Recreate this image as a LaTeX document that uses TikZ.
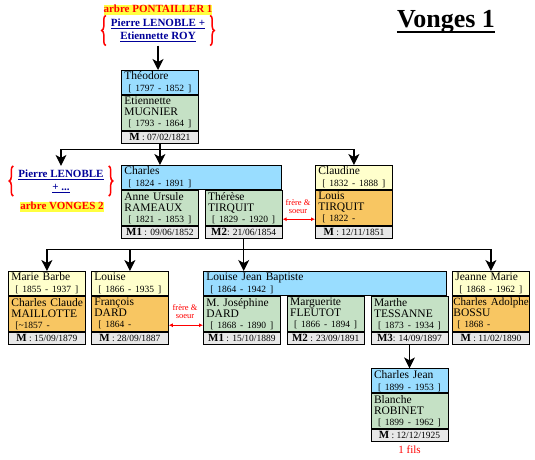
\documentclass[tikz,border=0pt]{standalone}
\usepackage{fontspec}
\setmainfont{Liberation Serif}
\usetikzlibrary{positioning,arrows.meta,decorations.pathreplacing}

\definecolor{bleu}{RGB}{153,221,255}
\definecolor{vert}{RGB}{197,225,197}
\definecolor{gris}{RGB}{232,232,232}
\definecolor{jaune}{RGB}{255,255,204}
\definecolor{orangeb}{RGB}{248,198,98}
\definecolor{jaunevif}{RGB}{255,255,64}
\definecolor{bleulien}{RGB}{0,0,153}

\newcommand\datefont{\fontsize{9.5}{11}\selectfont}
\newcommand\ind[1]{\hspace*{4pt}{\datefont #1}}
\newcommand\mnum[1]{{\fontsize{11}{12}\selectfont\bfseries #1}}

\tikzset{
  sect/.style={draw, line width=0.8pt, anchor=north west, inner xsep=3pt, inner ysep=0pt, text width=71pt, align=left},
  pere/.style={sect, fill=bleu, minimum height=24pt, font=\fontsize{11.5}{12}\selectfont},
  fille/.style={pere, fill=jaune},
  conj/.style={sect, fill=vert, minimum height=35pt, font=\fontsize{11.5}{11}\selectfont},
  conjf/.style={conj, fill=orangeb},
  mar/.style={draw, line width=0.8pt, anchor=north west, fill=gris, minimum width=77pt, minimum height=12pt, inner sep=0pt, font=\datefont},
  fil/.style={line width=1.2pt},
  fleche/.style={fil, -{Stealth[length=11pt,width=11pt,inset=3pt]}},
  lien/.style={text=bleulien, font=\fontsize{11}{13}\selectfont\bfseries, align=center, inner xsep=5pt, inner ysep=3.5pt},
  arbre/.style={fill=jaunevif, text=red, font=\fontsize{11}{12}\selectfont\bfseries, inner sep=0pt, text height=8pt, text depth=2pt},
  accol/.style={red, line width=1.5pt, decorate, decoration={brace, amplitude=4pt}},
  fs/.style={text=red, font=\fontsize{8.5}{8}\selectfont, align=center, inner sep=0pt},
  sib/.style={red, line width=0.8pt, {Latex[length=4pt,width=4pt]}-{Latex[length=4pt,width=4pt]}},
}

\begin{document}
\begin{tikzpicture}[x=1pt, y=-1pt]
    \useasboundingbox (0,0) rectangle (535,460);

    \node[font=\fontsize{26}{30}\selectfont\bfseries, inner sep=0pt, anchor=base] (titre) at (446,28) {Vonges 1};
    \draw[line width=2.5pt] ([yshift=-4pt]titre.base west) -- ([yshift=-4pt]titre.base east);

    \node[arbre] (pont) at (158,10) {arbre PONTAILLER 1};
    \node[lien] (lenoble) at (158,30.5) {\underline{Pierre LENOBLE +}\\\underline{Etiennette ROY}};
    \draw[accol] (lenoble.south west) -- (lenoble.north west);
    \draw[accol] (lenoble.north east) -- (lenoble.south east);

    \node[pere] (theoH) at (121,70) {Théodore\\\ind{[ 1797 - 1852 ]}};
    \node[conj] (theoS) at (theoH.south west) {Etiennette\\MUGNIER\\\ind{[ 1793 - 1864 ]}};
    \node[mar] (theoM) at (theoS.south west) {\mnum{M} : 07/02/1821};
    \draw[fleche] (lenoble.south) -- (lenoble.south |- theoH.north);

    \node[lien] (lenoble2) at (61,181) {\underline{Pierre LENOBLE}\\\underline{+ ...}};
    \draw[accol] (lenoble2.south west) -- (lenoble2.north west);
    \draw[accol] (lenoble2.north east) -- (lenoble2.south east);
    \node[arbre] (vonges) at (62,206.5) {arbre VONGES 2};

    \node[pere, text width=154pt] (charH) at (121,165) {Charles\\\ind{[ 1824 - 1891 ]}};
    \node[conj] (annS) at (charH.south west) {Anne Ursule\\RAMEAUX\\\ind{[ 1821 - 1853 ]}};
    \node[mar] (annM) at (annS.south west) {\mnum{M1} : 09/06/1852};
    \node[conj, right=6pt of annS] (thS) {Thérèse\\TIRQUIT\\\ind{[ 1829 - 1920 ]}};
    \node[mar] (thM) at (thS.south west) {\mnum{M2}: 21/06/1854};

    \node[fille] (claH) at (315,165) {Claudine\\\ind{[ 1832 - 1888 ]}};
    \node[conjf] (louS) at (claH.south west) {Louis\\TIRQUIT\\\ind{[ 1822 -}};
    \node[mar] (louM) at (louS.south west) {\mnum{M} : 12/11/1851};

    \node[fs] (fs1) at (298,207) {frère \&\\soeur};
    \draw[sib] ([yshift=-11.5pt]thS.east) -- ([yshift=-11.5pt]louS.west);

    \draw[fil] (theoM.south) -- ++(0,6) coordinate (j1);
    \draw[fleche] (j1) -| (lenoble2.north);
    \draw[fleche] (j1) -- (j1 |- charH.north);
    \draw[fleche] (j1) -| (claH.north);

    \node[fille] (mbH) at (8,271) {Marie Barbe\\\ind{[ 1855 - 1937 ]}};
    \node[conjf] (ccS) at (mbH.south west) {\mbox{Charles Claude}\\MAILLOTTE\\\ind{[\textasciitilde1857 -}};
    \node[mar] (ccM) at (ccS.south west) {\mnum{M} : 15/09/1879};

    \node[fille] (louH) at (91,271) {Louise\\\ind{[ 1866 - 1935 ]}};
    \node[conjf] (frS) at (louH.south west) {François\\DARD\\\ind{[ 1864 -}};
    \node[mar] (frM) at (frS.south west) {\mnum{M} : 28/09/1887};

    \node[pere, text width=237pt] (ljbH) at (203,271) {Louise Jean Baptiste\\\ind{[ 1864 - 1942 ]}};
    \node[conj] (joS) at (ljbH.south west) {M. Joséphine\\DARD\\\ind{[ 1868 - 1890 ]}};
    \node[mar] (joM) at (joS.south west) {\mnum{M1} : 15/10/1889};
    \node[conj, right=6pt of joS] (maS) {Marguerite\\FLEUTOT\\\ind{[ 1866 - 1894 ]}};
    \node[mar] (maM) at (maS.south west) {\mnum{M2} : 23/09/1891};
    \node[conj, right=6pt of maS] (mtS) {Marthe\\TESSANNE\\\ind{[ 1873 - 1934 ]}};
    \node[mar] (mtM) at (mtS.south west) {\mnum{M3}: 14/09/1897};

    \node[fille] (jmH) at (452,271) {Jeanne Marie\\\ind{[ 1868 - 1962 ]}};
    \node[conjf, text width=75pt, inner xsep=1pt] (caS) at (jmH.south west) {\mbox{\fontsize{11}{11}\selectfont Charles Adolphe}\\BOSSU\\\ind{[ 1868 -}};
    \node[mar] (caM) at (caS.south west) {\mnum{M} : 11/02/1890};

    \node[fs] (fs2) at (185,312) {frère \&\\soeur};
    \draw[sib] ([yshift=-11.5pt]frS.east) -- ([yshift=-11.5pt]joS.west);

    \draw[fil] (thM.south) -- ++(0,11) coordinate (j2);
    \draw[fleche] (j2) -| (mbH.north);
    \draw[fleche] (j2) -| (louH.north);
    \draw[fleche] (j2) -- (j2 |- ljbH.north);
    \draw[fleche] (j2) -| (jmH.north);

    \node[pere, below=24pt of mtM] (cjH) {Charles Jean\\\ind{[ 1899 - 1953 ]}};
    \node[conj] (blS) at (cjH.south west) {Blanche\\ROBINET\\\ind{[ 1899 - 1962 ]}};
    \node[mar] (blM) at (blS.south west) {\mnum{M} : 12/12/1925};
    \draw[fleche] (mtM.south) -- (cjH.north);
    \node[text=red, font=\fontsize{11}{12}\selectfont, inner sep=1pt, below=3pt of blM] (fils) {1 fils};
\end{tikzpicture}
\end{document}
